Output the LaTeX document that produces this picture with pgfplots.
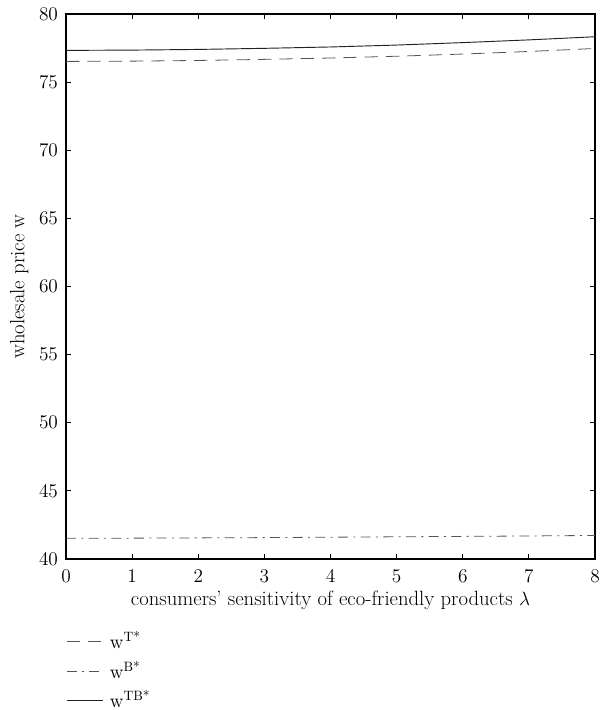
\documentclass[border=0pt]{standalone}
\usepackage{pgfplots}
\pgfplotsset{compat=1.18}
\definecolor{curve}{HTML}{555555}
\definecolor{solidc}{HTML}{222222}
\begin{document}
\fontsize{14.5}{17}\selectfont
\begin{tikzpicture}
\begin{axis}[
  name=ax,
  scale only axis,
  width=396.75pt, height=408.75pt,
  xmin=0, xmax=8, ymin=40, ymax=80,
  xtick={0,1,...,8}, ytick={40,45,...,80},
  tick align=inside, major tick length=4pt,
  tick style={black, line width=0.7pt},
  axis line style={black, line width=0.8pt},
  /pgf/number format/assume math mode=true,
  ticklabel style={font=\fontsize{14.5}{17}\selectfont},
  xticklabel style={yshift=-3pt},
  yticklabel style={xshift=-1pt},
  xlabel={consumers’ sensitivity of eco-friendly products $\lambda$},
  ylabel={wholesale price w},
  label style={font=\fontsize{15.5}{18}\selectfont},
  xlabel style={yshift=4pt},
  ylabel style={yshift=-2pt},
  legend style={draw=none, fill=none, at={(0,-0.128)}, anchor=north west,
    font=\fontsize{14.5}{17}\selectfont, row sep=3pt, inner xsep=0pt, inner ysep=0pt},
  legend cell align=left,
  legend image code/.code={\draw[#1] (0pt,0pt) -- (27pt,0pt); \path (30pt,0pt);},
]
\addplot[curve, line width=0.6pt, dash pattern=on 10pt off 6pt] coordinates {
(0,76.52) (1,76.54) (2,76.59) (3,76.67) (4,76.77) (5,76.90) (6,77.06) (7,77.25) (8,77.47)};
\addlegendentry{w\textsuperscript{T*}}
\addplot[curve, line width=0.6pt, dash pattern=on 7.5pt off 4pt on 1.5pt off 4pt] coordinates {
(0,41.52) (1,41.53) (2,41.55) (3,41.57) (4,41.60) (5,41.63) (6,41.66) (7,41.69) (8,41.73)};
\addlegendentry{w\textsuperscript{B*}}
\addplot[solidc, line width=0.7pt] coordinates {
(0,77.33) (1,77.35) (2,77.40) (3,77.48) (4,77.58) (5,77.72) (6,77.90) (7,78.10) (8,78.33)};
\addlegendentry{w\textsuperscript{TB*}}
\end{axis}
\pgfresetboundingbox
\path[use as bounding box] (ax.south west) ++(-49.5pt,-113.25pt) rectangle ++(450pt,532.5pt);
\end{tikzpicture}
\end{document}
